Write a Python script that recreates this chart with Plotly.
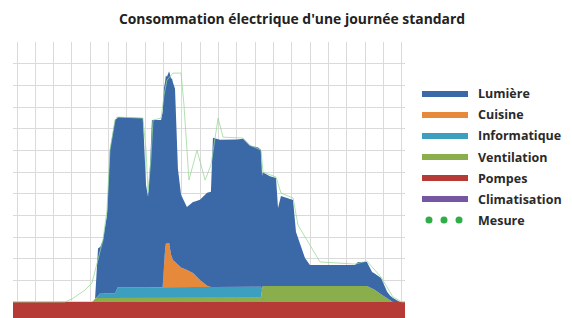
import plotly.graph_objects as go

# ---- data (x in grid units, y in grid units) ----
pompes_x = [-0.22, 21.17]
pompes_y = [0.74, 0.74]

ventilation_x = [-0.22, 4.1, 4.3, 13.31, 13.4, 19.09, 19.53, 20.08, 20.35, 20.5, 21.17]
ventilation_y = [0, 0, 0.18, 0.2, 0.74, 0.74, 0.55, 0.23, 0.05, 0, 0]

informatique_x = [-0.22, 4.35, 4.5, 5.35, 5.5, 13.31, 13.37, 21.17]
informatique_y = [0, 0, 0.2, 0.22, 0.5, 0.5, 0, 0]

cuisine_x = [-0.22, 7.95, 8.02, 8.12, 8.3, 8.4, 8.51, 8.89, 9.27, 9.6, 9.98, 10.37, 10.5, 21.17]
cuisine_y = [0, 0, 1.2, 2.0, 2.03, 1.5, 1.25, 0.92, 0.78, 0.65, 0.32, 0.05, 0, 0]

lumiere_x = [-0.22, 4.26, 4.42, 4.53, 4.69, 4.91, 5.07, 5.35, 5.46, 6.87, 7.04, 7.15, 7.26,
             7.36, 7.86, 7.97, 8.07, 8.18, 8.46, 8.62, 8.78, 8.95, 9.27, 9.71, 9.98, 10.37,
             10.58, 10.69, 11.07, 12.0, 12.33, 12.71, 13.15, 13.31, 13.37, 13.8, 14.13, 14.24,
             14.4, 15.06, 15.22, 15.71, 15.98, 18.44, 18.6, 19.09, 19.37, 19.86, 20.19, 20.51,
             20.89, 21.17]
lumiere_y = [0, 0, 2.2, 2.13, 2.48, 3.63, 6.63, 8.02, 7.86, 7.81, 4.72, 4.17, 5.64,
             7.72, 7.72, 8.18, 7.83, 7.7, 8.26, 8.0, 4.43, 3.36, 2.92, 3.39, 3.71, 4.3,
             4.4, 6.89, 6.8, 6.8, 6.84, 6.52, 6.43, 6.33, 5.26, 5.07, 4.98, 3.6,
             4.15, 3.97, 2.49, 1.29, 0.97, 0.97, 1.11, 1.11, 0.76, 0.75, 0.31, 0.18,
             0, 0]

climatisation_x = [-0.22, 21.17]
climatisation_y = [0, 0]

mesure_x = [-0.22, 2.62, 3.0, 3.71, 4.09, 4.3, 4.53, 4.69, 4.91, 5.07, 5.35, 5.46, 6.87,
            7.04, 7.15, 7.3, 7.42, 7.86, 8.02, 8.18, 8.51, 8.95, 9.11, 9.38, 9.82, 10.26,
            10.58, 10.97, 11.24, 12.33, 12.71, 13.31, 13.42, 14.13, 14.4, 15.06, 15.33,
            15.98, 16.53, 18.44, 19.09, 19.86, 20.51, 21.0, 21.17]
mesure_y = [0.74, 0.74, 0.88, 1.29, 1.62, 2.31, 3.14, 3.6, 4.99, 7.75, 9.14, 9.28, 9.23,
            7.75, 5.82, 7.29, 9.14, 9.23, 10.29, 10.98, 11.31, 11.31, 9.83, 6.37, 7.75, 6.37,
            7.06, 9.23, 8.35, 8.31, 7.98, 7.75, 6.74, 6.51, 5.77, 5.54, 4.29,
            3.37, 2.59, 2.49, 2.63, 1.89, 0.97, 0.74, 0.74]

series = [
    ("Pompes", pompes_x, pompes_y, "#b63b37"),
    ("Ventilation", ventilation_x, ventilation_y, "#8aae4b"),
    ("Informatique", informatique_x, informatique_y, "#3c9fbf"),
    ("Cuisine", cuisine_x, cuisine_y, "#e6893b"),
    ("Lumière", lumiere_x, lumiere_y, "#3b69a8"),
    ("Climatisation", climatisation_x, climatisation_y, "#7456a2"),
]

legend_order = ["Lumière", "Cuisine", "Informatique", "Ventilation", "Pompes", "Climatisation"]
colors = {n: c for n, _, _, c in series}
mesure_color = "#2fae48"

fig = go.Figure()
for name, xs, ys, col in series:
    fig.add_trace(go.Scatter(
        x=xs, y=ys, name=name, mode="lines", stackgroup="one", stackgaps="interpolate",
        line=dict(width=0, color=col), fillcolor=col, showlegend=False, hoverinfo="skip"))

fig.add_trace(go.Scatter(
    x=mesure_x, y=mesure_y, name="Mesure", mode="lines",
    line=dict(width=1, color="rgba(150,215,150,0.75)"), showlegend=False))

# ---- geometry (page pixels; the page body has an 8px margin) ----
OFF = 8
PAGE_W, PAGE_H = 572, 318
W, H = PAGE_W - OFF, PAGE_H - OFF
plot_left, plot_right, plot_top, plot_bottom = 13, 405, 42, 318
L = plot_left - OFF
R = W - (plot_right - OFF)
T = plot_top - OFF
B = H - (plot_bottom - OFF)
pw, ph = plot_right - plot_left, plot_bottom - plot_top


def px(xp):
    return (xp - plot_left) / pw


def py(yp):
    return (plot_bottom - yp) / ph


shapes = []
annotations = []
item_y = [94, 115, 136, 157, 178, 199, 220]
for i, name in enumerate(legend_order):
    yy = item_y[i]
    shapes.append(dict(type="line", xref="paper", yref="paper",
                       x0=px(422), x1=px(468), y0=py(yy), y1=py(yy),
                       line=dict(color=colors[name], width=6)))
for i, name in enumerate(legend_order + ["Mesure"]):
    annotations.append(dict(text="<b>" + name + "</b>", xref="paper", yref="paper",
                            x=px(476), y=py(item_y[i]), xanchor="left", yanchor="middle",
                            showarrow=False,
                            font=dict(family="Open Sans", size=12.5, color="#2a2a2a")))
for cx in [429, 444, 459]:
    r = 3.5
    shapes.append(dict(type="circle", xref="paper", yref="paper",
                       x0=px(cx - r), x1=px(cx + r), y0=py(220 + r), y1=py(220 - r),
                       fillcolor=mesure_color, line=dict(width=0)))

fig.update_layout(
    width=W, height=H,
    margin=dict(l=L, r=R, t=T, b=B, pad=0),
    paper_bgcolor="white", plot_bgcolor="white",
    title=dict(text="<b>Consommation électrique d'une journée standard</b>",
               x=(292 - OFF) / W, xref="container", y=1 - (19 - OFF) / H, yref="container",
               xanchor="center", yanchor="middle",
               font=dict(family="Open Sans", size=13.9, color="#222222")),
    xaxis=dict(range=[-0.218, 21.167], tick0=0, dtick=1, showgrid=True,
               gridcolor="#dadada", gridwidth=1, zeroline=False, showticklabels=False,
               ticks="", showline=False),
    yaxis=dict(range=[0, 12.745], tick0=0.74, dtick=1, showgrid=True,
               gridcolor="#dadada", gridwidth=1, zeroline=False, showticklabels=False,
               ticks="", showline=False),
    shapes=shapes, annotations=annotations, showlegend=False,
)

fig.write_html("out.html")
